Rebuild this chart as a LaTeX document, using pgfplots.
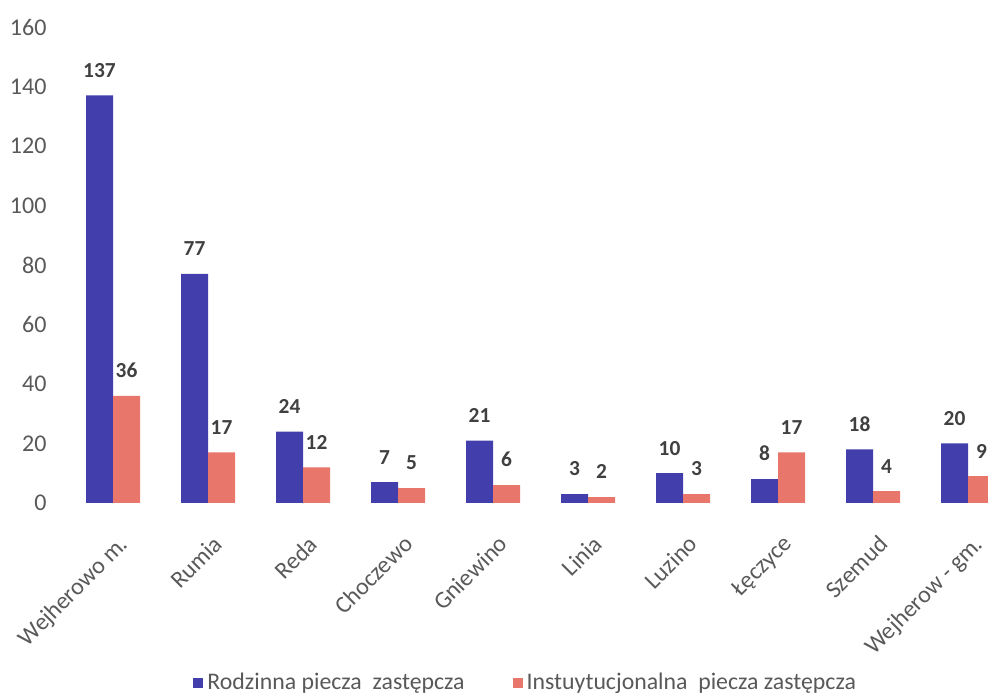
\documentclass[border=0pt]{standalone}
\usepackage{pgfplots}
\pgfplotsset{compat=1.18}
\usepackage{fontspec}
\setmainfont{Carlito}
\definecolor{rodz}{RGB}{66,62,172}
\definecolor{inst}{RGB}{232,118,106}
\definecolor{txt}{RGB}{89,89,89}
\definecolor{lab}{RGB}{64,64,64}
\begin{document}
\begin{tikzpicture}
\begin{axis}[
    scale only axis,
    width=461.25pt, height=238pt,
    ybar=0pt,
    bar width=13.5pt,
    xmin=-0.5, xmax=9.21,
    ymin=0, ymax=160,
    ytick={0,20,...,160},
    xtick={0,...,9},
    xticklabels={Wejherowo m.,Rumia,Reda,Choczewo,Gniewino,Linia,Luzino,Łęczyce,Szemud,Wejherow - gm.},
    axis line style={draw=none},
    major tick length=0pt,
    tick label style={font=\fontsize{12}{14}\selectfont, text=txt},
    /pgf/number format/assume math mode=true,
    yticklabel style={xshift=-6pt},
    xticklabel style={rotate=45, anchor=north east, xshift=-6pt, yshift=-9pt},
    nodes near coords,
    nodes near coords style={font=\fontsize{10.7}{12}\selectfont\bfseries, text=lab, yshift=5.5pt},
    legend style={at={(0.5,-0.378)}, anchor=center, draw=none,
        font=\fontsize{11.9}{13}\selectfont, text=txt, legend columns=2,
        /tikz/every even column/.append style={column sep=22pt}},
    legend image code/.code={\fill[#1] (0pt,-2.5pt) rectangle (5pt,2.5pt);},
]
\addplot[fill=rodz, draw=none] coordinates {
    (0,137) (1,77) (2,24) (3,7) (4,21) (5,3) (6,10) (7,8) (8,18) (9,20)};
\addplot[fill=inst, draw=none] coordinates {
    (0,36) (1,17) (2,12) (3,5) (4,6) (5,2) (6,3) (7,17) (8,4) (9,9)};
\legend{Rodzinna piecza\ \ zastępcza, Instuytucjonalna\ \ piecza zastępcza}
\coordinate (bl) at (rel axis cs:0,0);
\coordinate (tr) at (rel axis cs:1,1);
\end{axis}
\pgfresetboundingbox
\useasboundingbox ([xshift=-32.75pt,yshift=-95pt]bl) rectangle ([yshift=13.5pt]tr);
\end{tikzpicture}
\end{document}
